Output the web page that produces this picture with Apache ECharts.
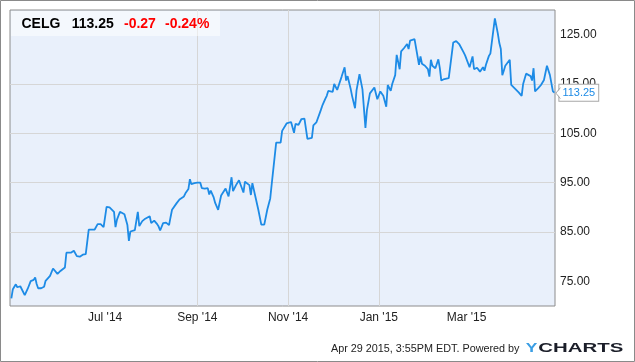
<!DOCTYPE html>
<html><head><meta charset="utf-8">
<script src="https://cdn.jsdelivr.net/npm/echarts@6/dist/echarts.min.js"></script>
<style>html,body{margin:0;padding:0;background:#fff}#c{width:635px;height:362px}</style>
</head><body><div id="c"></div>
<script>
const ticker = 'CELG';
const lastPriceText = '113.25';
const changeText = '-0.27';
const changePctText = '-0.24%';
const footerText = 'Apr 29 2015, 3:55PM EDT. Powered by';
const logoY = 'Y';
const logoRest = 'CHARTS';

const xTickDates = [[2014, 6, 1], [2014, 8, 1], [2014, 10, 1], [2015, 0, 1], [2015, 2, 1]];
const xTickLabels = ["Jul '14", "Sep '14", "Nov '14", "Jan '15", "Mar '15"];
const yTicks = [75, 85, 95, 105, 115, 125];

// days after 2014-04-29
const dayOffsets = [
  0,1,3,4,6,7,9,11,13,15,
  16,17,18,20,22,23,24,26,28,31,
  33,36,37,40,41,42,44,46,48,49,
  50,52,54,56,58,60,62,64,66,69,
  70,71,73,76,78,79,80,83,85,86,
  88,90,93,94,96,98,99,100,102,104,
  106,107,108,111,113,114,116,117,119,120,
  121,123,125,127,128,130,132,133,134,136,
  137,139,141,142,144,146,148,149,151,153,
  156,157,160,161,162,164,166,168,170,172,
  174,175,176,178,181,182,183,185,188,190,
  191,193,195,197,199,202,203,205,208,209,
  211,212,213,216,217,219,220,222,224,225,
  226,228,229,231,232,234,236,238,239,241,
  244,246,248,250,252,253,255,256,258,259,
  261,262,264,266,267,268,271,272,274,275,
  276,278,280,281,282,283,285,287,288,289,
  291,294,297,299,301,302,304,305,306,308,
  310,311,313,314,315,317,318,319,321,322,
  325,327,328,329,330,331,332,335,336,338,
  341,343,344,346,349,350,351,352,354,356,
  358,360,362,364,365
];
const prices = [
  71.55,73.4,74.4,73.8,74.0,73.8,72.2,73.5,75.05,75.3,
  75.8,74.45,73.6,73.6,73.9,75.1,75.3,76.1,77.6,76.5,
  77.1,77.8,80.8,80.8,80.9,81.2,80.1,80.0,80.4,80.0,
  80.5,85.5,85.5,85.5,86.6,86.6,86.0,90.1,90.0,89.1,
  86.0,87.5,89.1,88.6,86.4,83.2,85.1,85.4,89.1,86.2,
  87.2,87.7,88.2,86.8,87.3,86.6,86.1,85.3,86.8,86.9,
  86.4,88.0,89.5,90.8,91.6,91.35,92.2,92.85,93.7,95.7,
  94.7,94.9,95.0,95.0,93.9,93.8,93.9,92.6,93.4,92.0,
  90.9,89.5,92.4,92.3,93.8,92.2,96.1,93.3,94.5,95.5,
  93.0,95.2,94.5,92.5,94.9,92.2,89.5,86.5,86.5,89.5,
  91.8,94.7,94.7,103.1,103.1,105.5,105.1,107.0,107.3,105.1,
  106.9,106.7,107.9,108.0,103.9,104.1,106.6,107.2,109.7,110.6,
  112.0,112.6,113.6,113.4,115.0,113.8,114.1,116.5,118.4,115.7,
  116.6,114.1,112.6,110.1,113.7,117.0,113.9,106.1,109.7,113.1,
  114.3,111.9,113.5,112.6,110.4,114.8,113.6,115.0,116.8,120.9,
  118.0,121.6,122.3,123.1,122.1,123.8,124.1,123.9,118.9,120.6,
  119.1,118.7,118.0,116.5,119.9,118.7,118.2,120.0,118.2,115.7,
  116.0,116.2,123.4,123.7,123.1,123.4,121.4,120.8,120.4,118.4,
  120.6,118.0,118.3,118.4,117.5,118.4,117.7,118.9,120.7,121.2,
  128.3,125.2,123.3,122.1,116.8,117.7,118.7,119.9,114.8,114.2,
  113.3,112.6,115.0,117.1,116.6,115.7,118.2,113.5,114.1,114.8,
  115.8,118.7,116.8,113.5,113.25
];

const FONT = '"Liberation Sans", Arial, sans-serif';
const seriesData = dayOffsets.map((d, i) => [new Date(2014, 3, 29 + d).getTime(), prices[i]]);
const xTickValues = xTickDates.map(t => new Date(t[0], t[1], t[2]).getTime());

const chart = echarts.init(document.getElementById('c'), null, {renderer: 'canvas'});
const option = {
  animation: false,
  backgroundColor: '#ffffff',
  grid: {
    left: 10, top: 10, right: 80, bottom: 56,
    show: true, backgroundColor: '#e9f0fb', borderColor: '#8c8c8c', borderWidth: 1,
    containLabel: false
  },
  xAxis: {
    type: 'value',
    min: new Date(2014, 3, 28, 2).getTime(),
    max: new Date(2015, 3, 29, 10).getTime(),
    axisLine: {show: false},
    axisTick: {show: false, customValues: xTickValues},
    splitLine: {show: true, showMinLine: false, showMaxLine: false, lineStyle: {color: '#d6d6d6', width: 1}},
    axisLabel: {
      customValues: xTickValues,
      margin: 6,
      color: '#222', fontSize: 12, fontFamily: FONT,
      formatter: v => {
        const i = xTickValues.indexOf(v);
        return i >= 0 ? xTickLabels[i] : '';
      }
    }
  },
  yAxis: {
    type: 'value', position: 'right',
    min: 70, max: 130,
    axisLine: {show: false},
    axisTick: {show: false, customValues: yTicks},
    splitLine: {show: true, showMinLine: false, showMaxLine: false, lineStyle: {color: '#d6d6d6', width: 1}},
    axisLabel: {
      customValues: yTicks,
      margin: 5, color: '#222', fontSize: 12, fontFamily: FONT,
      padding: [3, 0, 0, 0],
      formatter: v => Number(v).toFixed(2)
    }
  },
  series: [{
    type: 'line',
    data: seriesData,
    showSymbol: false, symbol: 'none',
    lineStyle: {color: '#1d8be6', width: 1.8},
    itemStyle: {color: '#1d8be6'},
    endLabel: {
      show: true,
      formatter: p => Number(p.value[1]).toFixed(2),
      color: '#1d8be6', fontSize: 11, fontFamily: FONT,
      backgroundColor: '#ffffff', borderColor: '#a8a8a8', borderWidth: 1,
      padding: [3, 3, 2, 3], distance: 5
    },
    z: 3
  }],
  graphic: [
    {id: 'outer', type: 'rect', shape: {x: 0.5, y: 0.5, width: 634, height: 361},
      style: {fill: 'none', stroke: '#8a8a8a', lineWidth: 1}, z: 50, silent: true},
    {id: 'hdrbox', type: 'rect', shape: {x: 11, y: 11, width: 209, height: 25},
      style: {fill: 'rgba(255,255,255,0.5)'}, z: 50, silent: true},
    {id: 't1', type: 'text', x: 21.5, y: 24.5, z: 51,
      style: {text: ticker, fill: '#000', font: 'bold 14px ' + FONT, align: 'left', verticalAlign: 'middle'}},
    {id: 't2', type: 'text', x: 71.7, y: 24.5, z: 51,
      style: {text: lastPriceText, fill: '#000', font: 'bold 14px ' + FONT, align: 'left', verticalAlign: 'middle'}},
    {id: 't3', type: 'text', x: 124, y: 24.5, z: 51,
      style: {text: changeText, fill: '#ff0000', font: 'bold 14px ' + FONT, align: 'left', verticalAlign: 'middle'}},
    {id: 't4', type: 'text', x: 165, y: 24.5, z: 51,
      style: {text: changePctText, fill: '#ff0000', font: 'bold 14px ' + FONT, align: 'left', verticalAlign: 'middle'}},
    {id: 'foot', type: 'text', x: 331, y: 349.5, z: 51,
      style: {text: footerText, fill: '#222', font: '10.8px ' + FONT, align: 'left', verticalAlign: 'middle'}},
    {id: 'logoY', type: 'text', x: 525.7, y: 348.8, scaleX: 1.34, z: 51,
      style: {text: logoY, fill: '#3a9ee4', font: 'bold 13px ' + FONT, align: 'left', verticalAlign: 'middle'}},
    {id: 'logoC', type: 'text', x: 538.3, y: 348.8, scaleX: 1.57, z: 51,
      style: {text: logoRest, fill: '#1b1e29', font: 'bold 13px ' + FONT, align: 'left', verticalAlign: 'middle'}}
  ]
};
chart.setOption(option);

const last = seriesData[seriesData.length - 1];
const pt = chart.convertToPixel({xAxisIndex: 0, yAxisIndex: 0}, last);
chart.setOption({
  graphic: [
    {id: 'arrowFill', type: 'polygon', z: 60, silent: true,
      shape: {points: [[pt[0] + 1.5, pt[1] + 0.5], [pt[0] + 7, pt[1] - 4.5], [pt[0] + 7, pt[1] + 5.5]]},
      style: {fill: '#ffffff'}},
    {id: 'arrowLine', type: 'polyline', z: 61, silent: true,
      shape: {points: [[pt[0] + 6, pt[1] - 5], [pt[0] + 1.5, pt[1] + 0.5], [pt[0] + 6, pt[1] + 6]]},
      style: {stroke: '#a8a8a8', lineWidth: 1, fill: 'none'}}
  ]
});
</script>
</body></html>
